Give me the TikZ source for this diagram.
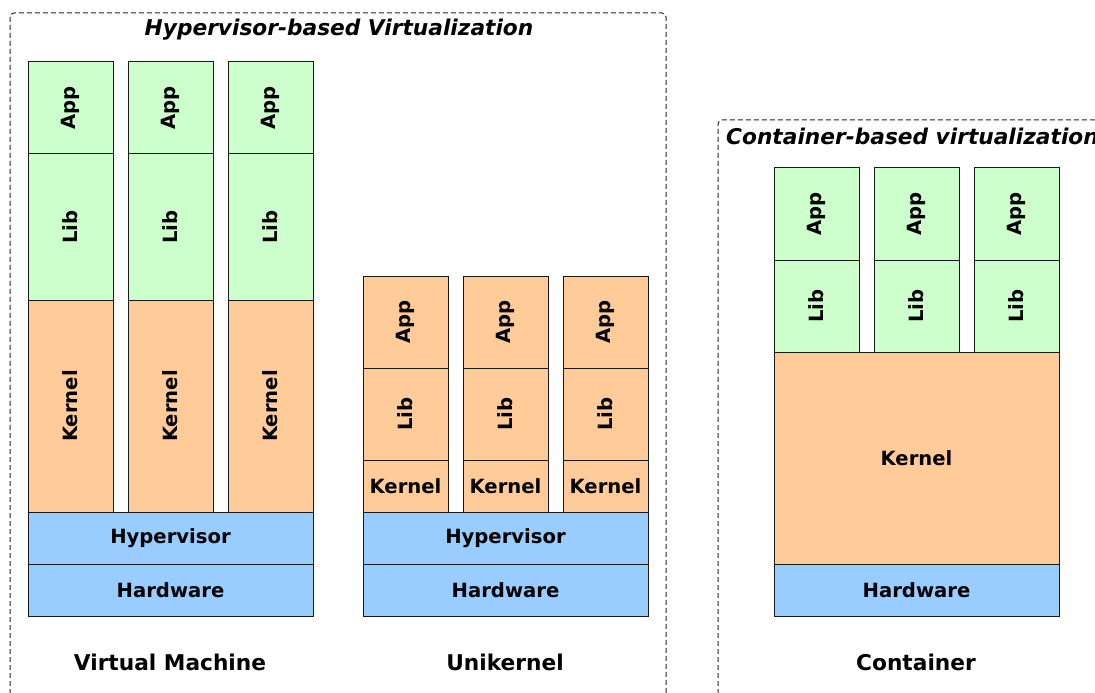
\documentclass[tikz,border=0pt]{standalone}
\usepackage{fontspec}
\setmainfont{DejaVu Sans}
\definecolor{appgreen}{HTML}{CCFFCC}
\definecolor{kernorange}{HTML}{FFCC99}
\definecolor{hwblue}{HTML}{99CCFF}
\tikzset{
  blkbox/.style={draw=black!90, line width=1bp, inner sep=0pt, outer sep=0pt,
    font=\fontsize{19.6bp}{23bp}\selectfont\bfseries},
  group/.style={draw=black!85, dash pattern=on 5bp off 3bp, line width=1bp,
    rounded corners=4bp},
  grouptitle/.style={font=\fontsize{21.7bp}{25bp}\selectfont\bfseries\itshape, inner sep=0pt},
  caption/.style={font=\fontsize{21.7bp}{25bp}\selectfont\bfseries, inner sep=0pt},
}
% \blk{name}{x1}{y1}{x2}{y2}{fill}{text transform}{text}
\newcommand\blk[8]{%
  \node[blkbox, fill=#6, minimum width={(#4-(#2))*1bp}, minimum height={(#5-(#3))*1bp}]
    (#1) at ({((#2)+(#4))/2},{((#3)+(#5))/2}) {#7{#8}};}
\newcommand\upright[1]{\rotatebox{90}{#1}}
\begin{document}
\begin{tikzpicture}[x=1bp, y=-1bp]
  \useasboundingbox (0,0) rectangle (1095,693);
  \clip (0,0) rectangle (1095,693);

  % group frames
  \draw[group] (10,710) -- (10,13) -- (666,13) -- (666,710);
  \draw[group] (718,710) -- (718,120) -- (1110,120);
  \node[grouptitle] (hvtitle) at (339,29.5) {Hypervisor-based Virtualization};
  \node[grouptitle, anchor=west] (cttitle) at (726,136.5) {Container-based virtualization};

  % virtual machines
  \foreach \i/\x in {1/28, 2/128, 3/228} {
    \blk{vmapp\i}{\x}{62}{\x+85}{154}{appgreen}{\upright}{App}
    \blk{vmlib\i}{\x}{154}{\x+85}{300}{appgreen}{\upright}{Lib}
    \blk{vmkern\i}{\x}{300}{\x+85}{512}{kernorange}{\upright}{Kernel}
  }
  \blk{vmhyp}{28}{512}{313}{564}{hwblue}{}{Hypervisor}
  \blk{vmhw}{28}{564}{313}{616}{hwblue}{}{Hardware}
  \node[caption] (vmcap) at (170,662) {Virtual Machine};

  % unikernels
  \foreach \i/\x in {1/363, 2/463, 3/563} {
    \blk{ukapp\i}{\x}{276}{\x+85}{368}{kernorange}{\upright}{App}
    \blk{uklib\i}{\x}{368}{\x+85}{460}{kernorange}{\upright}{Lib}
    \blk{ukkern\i}{\x}{460}{\x+85}{512}{kernorange}{}{Kernel}
  }
  \blk{ukhyp}{363}{512}{648}{564}{hwblue}{}{Hypervisor}
  \blk{ukhw}{363}{564}{648}{616}{hwblue}{}{Hardware}
  \node[caption] (ukcap) at (505,662) {Unikernel};

  % containers
  \foreach \i/\x in {1/774, 2/874, 3/974} {
    \blk{ctapp\i}{\x}{168}{\x+85}{260}{appgreen}{\upright}{App}
    \blk{ctlib\i}{\x}{260}{\x+85}{352}{appgreen}{\upright}{Lib}
  }
  \blk{ctkern}{774}{352}{1059}{564}{kernorange}{}{Kernel}
  \blk{cthw}{774}{564}{1059}{616}{hwblue}{}{Hardware}
  \node[caption] (ctcap) at (916,662) {Container};
\end{tikzpicture}
\end{document}
